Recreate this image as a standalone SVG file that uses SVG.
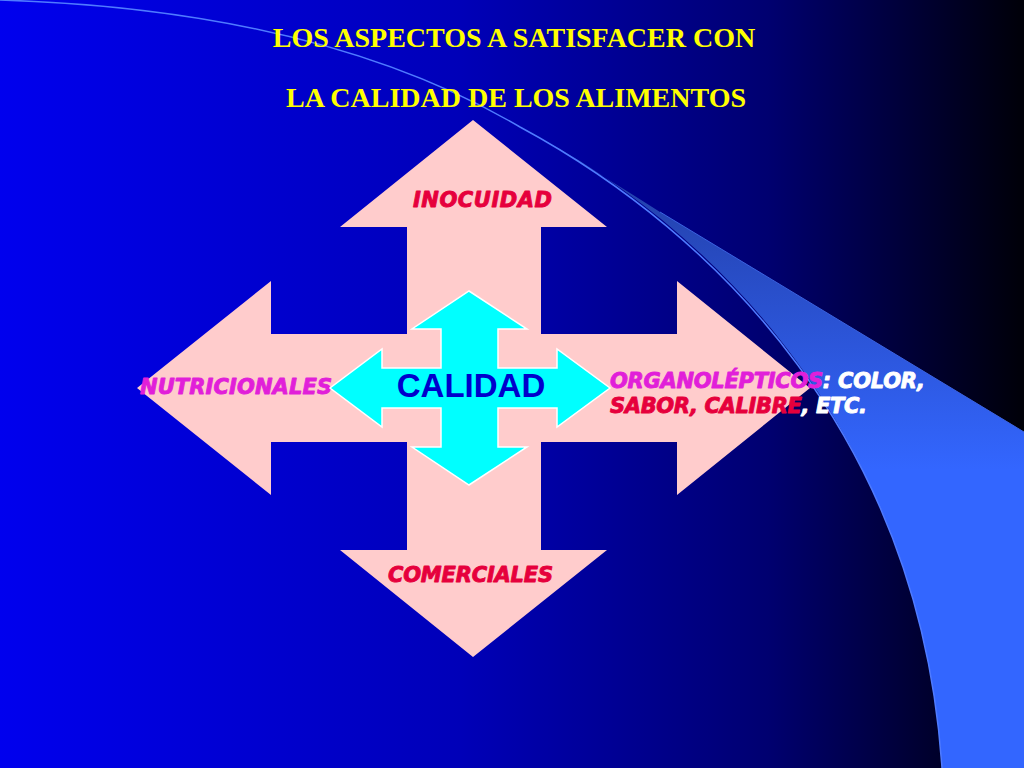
<svg xmlns="http://www.w3.org/2000/svg" width="1024" height="768" viewBox="0 0 1024 768">
  <defs>
    <linearGradient id="bg" x1="0" y1="0" x2="1" y2="0">
      <stop offset="0" stop-color="#0000EE"/>
      <stop offset="0.45" stop-color="#0000B8"/>
      <stop offset="0.75" stop-color="#000070"/>
      <stop offset="1" stop-color="#000008"/>
    </linearGradient>
    <linearGradient id="band" gradientUnits="userSpaceOnUse" x1="0" y1="200" x2="0" y2="470">
      <stop offset="0" stop-color="#2443B0"/>
      <stop offset="1" stop-color="#3366FF"/>
    </linearGradient>
    <style>
      .title { font-family: "Liberation Serif", "Times New Roman", serif; font-weight: bold; font-size: 28px; fill: #FFFF00; text-anchor: middle; }
      .lbl { font-family: "DejaVu Sans", Verdana, sans-serif; font-weight: 700; font-style: italic; font-size: 21px; stroke-width: 0.9px; stroke-linejoin: round; }
      .mag { fill: #E11FD9; stroke: #E11FD9; }
      .red { fill: #E6003C; stroke: #E6003C; }
      .wht { fill: #FFFFFF; stroke: #FFFFFF; }
      .pink { fill: #FFCCCC; }
      .cyan { fill: #00FFFF; stroke: #FFFFFF; stroke-width: 1.5; stroke-linejoin: miter; }
    </style>
  </defs>

  <g id="background">
    <rect x="0" y="0" width="1024" height="768" fill="url(#bg)"/>
    <path d="M 540,138 C 720,235 920,440 942,768 L 1024,768 L 1024,432 L 660,212 Q 610,180 540,138 Z" fill="url(#band)"/>
    <path d="M 0,0 Q 320,10 520,127 C 720,235 920,440 942,768" fill="none" stroke="#4F7BFF" stroke-width="1.5"/>
    <path d="M 660,212 L 1024,432" fill="none" stroke="#3A62E0" stroke-width="1"/>
  </g>

  <g id="title">
    <text class="title" x="514" y="47">LOS ASPECTOS A SATISFACER CON</text>
    <text class="title" x="516" y="107">LA CALIDAD DE LOS ALIMENTOS</text>
  </g>

  <g id="cross">
    <polygon class="pink" points="473,120 607,227 541,227 541,334 677,334 677,281 810,388 677,495 677,442 541,442 541,550 607,550 473,657 340,550 407,550 407,442 271,442 271,495 137,388 271,281 271,334 407,334 407,227 340,227"/>
  </g>

  <g id="node-inocuidad">
    <text class="lbl red" x="413" y="207" textLength="139">INOCUIDAD</text>
  </g>
  <g id="node-comerciales">
    <text class="lbl red" x="388" y="582" textLength="165">COMERCIALES</text>
  </g>
  <g id="node-nutricionales">
    <text class="lbl mag" x="140" y="394" textLength="192">NUTRICIONALES</text>
  </g>

  <g id="node-calidad">
    <polygon class="cyan" points="469,291 527,329 498,329 498,368 557,368 557,349 610,388 557,427 557,408 498,408 498,447 527,447 469,485 412,447 441,447 441,408 382,408 382,427 330,388 382,349 382,368 441,368 441,329 412,329"/>
    <text x="471" y="397" text-anchor="middle" font-family="Liberation Sans, Arial, sans-serif" font-weight="bold" font-size="33" fill="#0000CC">CALIDAD</text>
  </g>

  <g id="node-organolepticos">
    <text class="lbl" x="610" y="388" textLength="315"><tspan class="mag">ORGANOLÉPTICOS</tspan><tspan class="wht">: COLOR,</tspan></text>
    <text class="lbl" x="610" y="413" textLength="257"><tspan class="red">SABOR, CALIBRE</tspan><tspan class="wht">, ETC.</tspan></text>
  </g>

  <g id="connectors"/>
</svg>
